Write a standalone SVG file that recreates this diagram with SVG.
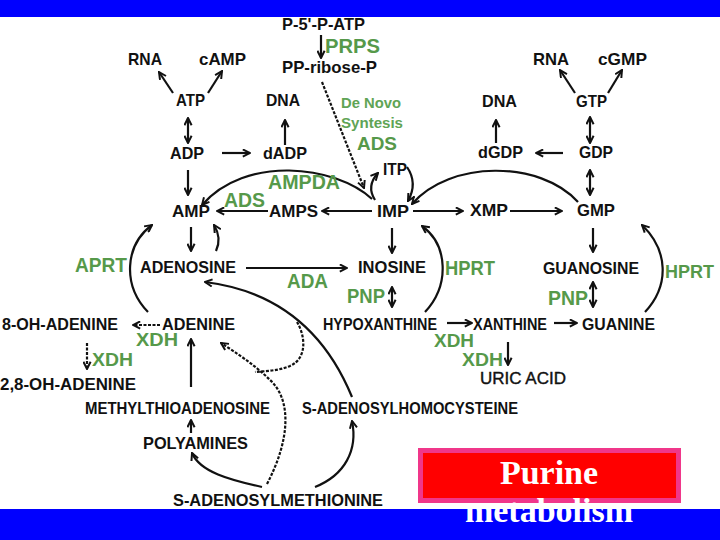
<svg xmlns="http://www.w3.org/2000/svg" width="720" height="540" viewBox="0 0 720 540">
<style>
.n{font-family:"Liberation Sans",Arial,sans-serif;font-weight:bold;font-size:16.5px;fill:#111}
.b{font-size:17px}
.g{font-family:"Liberation Sans",Arial,sans-serif;font-weight:bold;font-size:21px;fill:#56994a}
.gs{font-family:"Liberation Sans",Arial,sans-serif;font-weight:bold;font-size:15px;fill:#60a455}
.c path{fill:none;stroke:#111;stroke-width:2.2}
.c .e{marker-end:url(#a)}
.c .d{marker-start:url(#a);marker-end:url(#a)}
.c .s{stroke-dasharray:3 1.5}
.t{font-family:"Liberation Serif","Times New Roman",serif;font-weight:bold;font-size:34px;fill:#fff}
</style>
<defs>
<marker id="a" viewBox="0 0 10 10" refX="9" refY="5" markerWidth="9" markerHeight="9" markerUnits="userSpaceOnUse" orient="auto-start-reverse">
<path d="M1,1 L9,5 L1,9" fill="none" stroke="#111" stroke-width="2.2"/>
</marker>
</defs>
<rect x="0" y="0" width="720" height="17" fill="#0000ff"/>
<rect x="0" y="509" width="720" height="31" fill="#0000ff"/>

<g id="connectors" class="c">
<path class="e" d="M321,35 L321,58"/>
<path class="e" d="M173,93 L159,72"/>
<path class="e" d="M208,93 L222,71"/>
<path class="d" d="M188,118 L188,143"/>
<path class="e" d="M222,153 L250,153"/>
<path class="e" d="M285,145 L285,120"/>
<path class="e" d="M188,170 L188,195"/>
<path class="e s" d="M322,82 L364,188"/>
<path class="e" d="M372,211 L322,211"/>
<path class="e" d="M268,211 L217,211"/>
<path class="e" d="M372,199 C335,165 245,155 202,205"/>
<path class="e" d="M375,200 Q366,186 378,173"/>
<path class="e" d="M407,167 Q418,183 408,201"/>
<path class="e" d="M578,202 C540,160 450,160 412,204"/>
<path class="e" d="M413,211 L463,211"/>
<path class="e" d="M510,211 L562,211"/>
<path class="e" d="M575,93 L560,70"/>
<path class="e" d="M608,93 L622,70"/>
<path class="d" d="M590,117 L590,143"/>
<path class="e" d="M563,153 L536,153"/>
<path class="e" d="M496,143 L496,120"/>
<path class="d" d="M590,170 L590,195"/>
<path class="e" d="M593,228 L593,252"/>
<path class="e" d="M191,227 L191,251"/>
<path class="e" d="M216,251 Q222,238 214,225"/>
<path class="e" d="M148,312 C122,285 125,245 152,225"/>
<path class="e" d="M246,268 L347,268"/>
<path class="e" d="M392,228 L392,253"/>
<path class="d" d="M392,287 L392,307"/>
<path class="e" d="M425,312 C450,285 448,245 422,226"/>
<path class="d" d="M593,282 L593,307"/>
<path class="e" d="M645,312 C670,285 668,250 642,225"/>
<path class="e" d="M447,323 L472,323"/>
<path class="e" d="M554,323 L577,323"/>
<path class="e" d="M508,342 L508,365"/>
<path class="e s" d="M160,325 L133,325"/>
<path class="e s" d="M87,343 L87,369"/>
<path class="e" d="M191,387 L191,339"/>
<path class="e" d="M191,433 L191,420"/>
<path class="e" d="M262,487 C230,480 200,472 192,453"/>
<path class="e" d="M315,487 C345,475 358,450 352,421"/>
<path class="e" d="M352,397 Q310,295 205,282"/>
<path class="e s" d="M267,484 C290,440 292,400 270,380 C255,365 235,352 221,343"/>
<path class="s" d="M297,322 C305,335 308,358 290,366 C278,371 265,371 255,372"/>
</g>

<g id="n-p5patp"><text class="n b" x="282" y="30" textLength="83" lengthAdjust="spacingAndGlyphs">P-5'-P-ATP</text></g>
<g id="n-ppribose"><text class="n b" x="282" y="73" textLength="95" lengthAdjust="spacingAndGlyphs">PP-ribose-P</text></g>
<g id="n-rna1"><text class="n b" x="128" y="65" textLength="34" lengthAdjust="spacingAndGlyphs">RNA</text></g>
<g id="n-camp"><text class="n b" x="199" y="65" textLength="47" lengthAdjust="spacingAndGlyphs">cAMP</text></g>
<g id="n-atp"><text class="n b" x="176" y="106" textLength="29" lengthAdjust="spacingAndGlyphs">ATP</text></g>
<g id="n-dna1"><text class="n b" x="266" y="106" textLength="34" lengthAdjust="spacingAndGlyphs">DNA</text></g>
<g id="n-adp"><text class="n b" x="170" y="159" textLength="34" lengthAdjust="spacingAndGlyphs">ADP</text></g>
<g id="n-dadp"><text class="n b" x="263" y="159" textLength="44" lengthAdjust="spacingAndGlyphs">dADP</text></g>
<g id="n-amp"><text class="n" x="172" y="217" textLength="38" lengthAdjust="spacingAndGlyphs">AMP</text></g>
<g id="n-amps"><text class="n" x="269" y="217" textLength="49" lengthAdjust="spacingAndGlyphs">AMPS</text></g>
<g id="n-imp"><text class="n" x="377" y="217" textLength="32" lengthAdjust="spacingAndGlyphs">IMP</text></g>
<g id="n-itp"><text class="n" x="383" y="175" textLength="24" lengthAdjust="spacingAndGlyphs">ITP</text></g>
<g id="n-xmp"><text class="n" x="470" y="216" textLength="38" lengthAdjust="spacingAndGlyphs">XMP</text></g>
<g id="n-gmp"><text class="n" x="577" y="216" textLength="38" lengthAdjust="spacingAndGlyphs">GMP</text></g>
<g id="n-dna2"><text class="n b" x="482" y="107" textLength="35" lengthAdjust="spacingAndGlyphs">DNA</text></g>
<g id="n-dgdp"><text class="n b" x="478" y="158" textLength="45" lengthAdjust="spacingAndGlyphs">dGDP</text></g>
<g id="n-gdp"><text class="n b" x="579" y="158" textLength="34" lengthAdjust="spacingAndGlyphs">GDP</text></g>
<g id="n-gtp"><text class="n b" x="576" y="107" textLength="31" lengthAdjust="spacingAndGlyphs">GTP</text></g>
<g id="n-rna2"><text class="n b" x="533" y="65" textLength="36" lengthAdjust="spacingAndGlyphs">RNA</text></g>
<g id="n-cgmp"><text class="n b" x="598" y="65" textLength="49" lengthAdjust="spacingAndGlyphs">cGMP</text></g>
<g id="n-adenosine"><text class="n" x="140" y="273" textLength="96" lengthAdjust="spacingAndGlyphs">ADENOSINE</text></g>
<g id="n-inosine"><text class="n" x="358" y="273" textLength="68" lengthAdjust="spacingAndGlyphs">INOSINE</text></g>
<g id="n-guanosine"><text class="n" x="543" y="274" textLength="96" lengthAdjust="spacingAndGlyphs">GUANOSINE</text></g>
<g id="n-8oh"><text class="n" x="2" y="330" textLength="116" lengthAdjust="spacingAndGlyphs">8-OH-ADENINE</text></g>
<g id="n-adenine"><text class="n" x="162" y="330" textLength="73" lengthAdjust="spacingAndGlyphs">ADENINE</text></g>
<g id="n-hypox"><text class="n" x="323" y="330" textLength="114" lengthAdjust="spacingAndGlyphs">HYPOXANTHINE</text></g>
<g id="n-xanthine"><text class="n" x="473" y="330" textLength="74" lengthAdjust="spacingAndGlyphs">XANTHINE</text></g>
<g id="n-guanine"><text class="n" x="582" y="330" textLength="73" lengthAdjust="spacingAndGlyphs">GUANINE</text></g>
<g id="n-28oh"><text class="n" x="0" y="390" textLength="136" lengthAdjust="spacingAndGlyphs">2,8-OH-ADENINE</text></g>
<g id="n-mta"><text class="n" x="85" y="414" textLength="185" lengthAdjust="spacingAndGlyphs">METHYLTHIOADENOSINE</text></g>
<g id="n-sah"><text class="n" x="302" y="414" textLength="216" lengthAdjust="spacingAndGlyphs">S-ADENOSYLHOMOCYSTEINE</text></g>
<g id="n-uric"><text class="n" x="480" y="384" textLength="86" lengthAdjust="spacingAndGlyphs" style="font-weight:normal;stroke:#111;stroke-width:0.4">URIC ACID</text></g>
<g id="n-polyamines"><text class="n" x="143" y="449" textLength="105" lengthAdjust="spacingAndGlyphs">POLYAMINES</text></g>
<g id="n-sam"><text class="n" x="173" y="506" textLength="210" lengthAdjust="spacingAndGlyphs">S-ADENOSYLMETHIONINE</text></g>

<g id="enzymes">
<text class="g" x="325" y="53" textLength="55" lengthAdjust="spacingAndGlyphs">PRPS</text>
<text class="gs" x="341" y="108" textLength="60" lengthAdjust="spacingAndGlyphs">De Novo</text>
<text class="gs" x="341" y="128" textLength="62" lengthAdjust="spacingAndGlyphs">Syntesis</text>
<text class="g" x="357" y="150" textLength="40" lengthAdjust="spacingAndGlyphs" style="font-size:19px">ADS</text>
<text class="g" x="268" y="189" textLength="72" lengthAdjust="spacingAndGlyphs">AMPDA</text>
<text class="g" x="224" y="207" textLength="41" lengthAdjust="spacingAndGlyphs">ADS</text>
<text class="g" x="75" y="272" textLength="52" lengthAdjust="spacingAndGlyphs">APRT</text>
<text class="g" x="287" y="288" textLength="41" lengthAdjust="spacingAndGlyphs">ADA</text>
<text class="g" x="347" y="303" textLength="38" lengthAdjust="spacingAndGlyphs">PNP</text>
<text class="g" x="445" y="275" textLength="50" lengthAdjust="spacingAndGlyphs">HPRT</text>
<text class="g" x="548" y="305" textLength="40" lengthAdjust="spacingAndGlyphs">PNP</text>
<text class="g" x="665" y="278" textLength="49" lengthAdjust="spacingAndGlyphs" style="font-size:19px">HPRT</text>
<text class="g" x="136" y="346" textLength="42" lengthAdjust="spacingAndGlyphs" style="font-size:19px">XDH</text>
<text class="g" x="92" y="366" textLength="41" lengthAdjust="spacingAndGlyphs" style="font-size:19px">XDH</text>
<text class="g" x="434" y="347" textLength="40" lengthAdjust="spacingAndGlyphs" style="font-size:19px">XDH</text>
<text class="g" x="462" y="366" textLength="41" lengthAdjust="spacingAndGlyphs" style="font-size:19px">XDH</text>
</g>

<g id="title">
<rect x="420.5" y="450.5" width="258" height="50" fill="#ff0000" stroke="#f0368a" stroke-width="5"/>
<text class="t" x="549" y="484" text-anchor="middle">Purine</text>
<text class="t" x="549" y="522" text-anchor="middle">metabolism</text>
</g>
</svg>
